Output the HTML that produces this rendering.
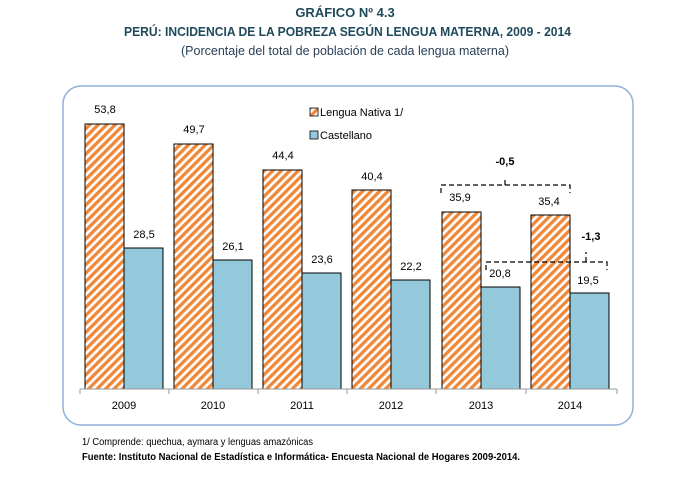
<!DOCTYPE html>
<html><head><meta charset="utf-8"><style>
body{margin:0;width:691px;height:475px;background:#fff;font-family:"Liberation Sans",sans-serif;overflow:hidden}
</style></head><body>
<svg width="691" height="475" xmlns="http://www.w3.org/2000/svg" font-family="Liberation Sans, sans-serif">
<defs>
<pattern id="h" patternUnits="userSpaceOnUse" width="6" height="6" patternTransform="rotate(45)">
<rect width="6" height="6" fill="#fff"/><rect width="3.3" height="6" fill="#f0883a"/>
</pattern>
</defs>
<text x="345" y="17" text-anchor="middle" font-size="13" font-weight="bold" fill="#1f4a5c">GRÁFICO Nº 4.3</text>
<text x="124" y="36" font-size="13" font-weight="bold" fill="#1f4a5c" textLength="447" lengthAdjust="spacingAndGlyphs">PERÚ: INCIDENCIA DE LA POBREZA SEGÚN LENGUA MATERNA, 2009 - 2014</text>
<text x="345" y="55" text-anchor="middle" font-size="12.5" fill="#2a3f55">(Porcentaje del total de población de cada lengua materna)</text>
<rect x="63" y="86" width="570" height="339" rx="18" fill="none" stroke="#8fb0d8" stroke-width="1.5"/>
<g stroke="#000" stroke-width="1">
<rect x="85" y="124" width="39" height="265" fill="url(#h)"/>
<rect x="124" y="248" width="39" height="141" fill="#93c9da"/>
<rect x="174" y="144" width="39" height="245" fill="url(#h)"/>
<rect x="213" y="260" width="39" height="129" fill="#93c9da"/>
<rect x="263" y="170" width="39" height="219" fill="url(#h)"/>
<rect x="302" y="273" width="39" height="116" fill="#93c9da"/>
<rect x="352" y="190" width="39" height="199" fill="url(#h)"/>
<rect x="391" y="280" width="39" height="109" fill="#93c9da"/>
<rect x="442" y="212" width="39" height="177" fill="url(#h)"/>
<rect x="481" y="287" width="39" height="102" fill="#93c9da"/>
<rect x="531" y="215" width="39" height="174" fill="url(#h)"/>
<rect x="570" y="293" width="39" height="96" fill="#93c9da"/>
</g>
<g stroke="#999" stroke-width="1">
<line x1="80" y1="389" x2="617" y2="389"/>
<line x1="80" y1="389" x2="80" y2="394"/><line x1="169" y1="389" x2="169" y2="394"/><line x1="258" y1="389" x2="258" y2="394"/><line x1="347" y1="389" x2="347" y2="394"/><line x1="436" y1="389" x2="436" y2="394"/><line x1="526" y1="389" x2="526" y2="394"/><line x1="617" y1="389" x2="617" y2="394"/>
</g>
<g font-size="11" text-anchor="middle" fill="#000">
<text x="105" y="113">53,8</text><text x="144" y="238">28,5</text>
<text x="194" y="133">49,7</text><text x="233" y="250">26,1</text>
<text x="283" y="159">44,4</text><text x="322" y="263">23,6</text>
<text x="372" y="180">40,4</text><text x="411" y="270">22,2</text>
<text x="460" y="201">35,9</text><text x="500" y="277">20,8</text>
<text x="549" y="205">35,4</text><text x="588" y="284">19,5</text>
<text x="124" y="409">2009</text><text x="213" y="409">2010</text><text x="302" y="409">2011</text><text x="391" y="409">2012</text><text x="481" y="409">2013</text><text x="570" y="409">2014</text>
<text x="505" y="165" font-weight="bold">-0,5</text>
<text x="591" y="240" font-weight="bold">-1,3</text>
</g>
<g fill="none" stroke="#000" stroke-dasharray="5,3" stroke-width="1.2">
<path d="M441,193 V185 H570 V193"/>
<path d="M505,185 V178"/>
<path d="M486,270 V262 H607 V270"/>
<path d="M586,262 V252"/>
</g>
<rect x="310" y="108" width="8" height="8" fill="url(#h)" stroke="#000" stroke-width="0.8"/>
<text x="320" y="116" font-size="11">Lengua Nativa 1/</text>
<rect x="310" y="131" width="8" height="8" fill="#93c9da" stroke="#000" stroke-width="0.8"/>
<text x="320" y="139" font-size="11">Castellano</text>
<text x="82" y="445" font-size="10" textLength="231" lengthAdjust="spacingAndGlyphs">1/ Comprende: quechua, aymara y lenguas amazónicas</text>
<text x="82" y="460" font-size="10" font-weight="bold" textLength="438" lengthAdjust="spacingAndGlyphs">Fuente: Instituto Nacional de Estadística e Informática- Encuesta Nacional de Hogares 2009-2014.</text>
</svg>
</body></html>
